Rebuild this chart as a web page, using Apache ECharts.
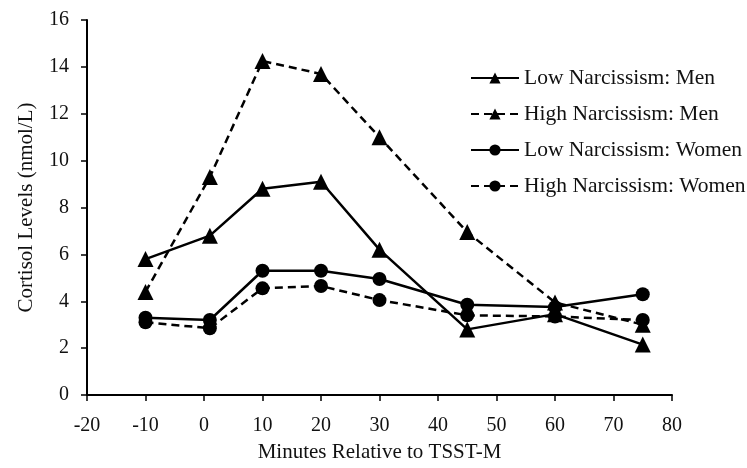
<!DOCTYPE html>
<html><head><meta charset="utf-8">
<script src="https://cdn.jsdelivr.net/npm/echarts@6/dist/echarts.min.js"></script>
<style>html,body{margin:0;padding:0;background:#fff}#c{width:747px;height:468px}</style>
</head><body><div id="c"></div>
<script>
const minutes = [-10, 1, 10, 20, 30, 45, 60, 75];
const lowMen = [5.8, 6.8, 8.8, 9.1, 6.2, 2.8, 3.45, 2.15];
const highMen = [4.4, 9.3, 14.25, 13.7, 11.0, 6.95, 3.95, 3.0];
const lowWomen = [3.3, 3.2, 5.3, 5.3, 4.95, 3.85, 3.75, 4.3];
const highWomen = [3.1, 2.85, 4.55, 4.65, 4.05, 3.4, 3.35, 3.2];
const seriesNames = ['Low Narcissism: Men', 'High Narcissism: Men', 'Low Narcissism: Women', 'High Narcissism: Women'];

const font = 'Liberation Serif';
const chart = echarts.init(document.getElementById('c'), null, {renderer: 'canvas'});
function mk(name, vals, symbol, dashed) {
  return {
    name: name, type: 'line',
    data: minutes.map((m, i) => [m, vals[i]]),
    symbol: symbol, symbolSize: symbol === 'triangle' ? 16 : 14,
    itemStyle: {color: '#000'},
    lineStyle: {color: '#000', width: 2.5, type: dashed ? [8, 5] : 'solid'},
    showSymbol: true, animation: false
  };
}
chart.setOption({
  animation: false,
  grid: {left: 87, right: 75, top: 20, bottom: 73},
  legend: {
    orient: 'vertical', left: 465, top: 62, itemWidth: 48, itemHeight: 14, itemGap: 14,
    data: seriesNames,
    textStyle: {fontFamily: font, fontSize: 21.5, color: '#111'}
  },
  xAxis: {
    type: 'value', min: -20, max: 80, interval: 10,
    name: 'Minutes Relative to TSST-M', nameLocation: 'middle', nameGap: 47,
    nameTextStyle: {fontFamily: font, fontSize: 21, color: '#111'},
    axisLine: {onZero: false, lineStyle: {color: '#000', width: 2}},
    axisTick: {show: true, length: 6, lineStyle: {color: '#000', width: 1.5}},
    axisLabel: {fontFamily: font, fontSize: 20, color: '#111', margin: 21},
    splitLine: {show: false}
  },
  yAxis: {
    type: 'value', min: 0, max: 16, interval: 2,
    name: 'Cortisol Levels (nmol/L)', nameLocation: 'middle', nameGap: 50,
    nameTextStyle: {fontFamily: font, fontSize: 21, color: '#111'},
    axisLine: {show: true, onZero: false, lineStyle: {color: '#000', width: 2}},
    axisTick: {show: true, length: 6, lineStyle: {color: '#000', width: 1.5}},
    axisLabel: {fontFamily: font, fontSize: 20, color: '#111', margin: 18},
    splitLine: {show: false}
  },
  series: [
    mk(seriesNames[0], lowMen, 'triangle', false),
    mk(seriesNames[1], highMen, 'triangle', true),
    mk(seriesNames[2], lowWomen, 'circle', false),
    mk(seriesNames[3], highWomen, 'circle', true)
  ]
});
</script></body></html>
